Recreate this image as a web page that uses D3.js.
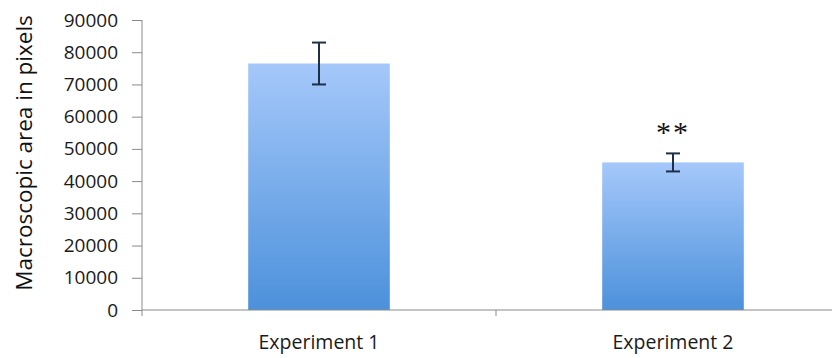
<!DOCTYPE html>
<html><head><meta charset="utf-8">
<script src="https://cdn.jsdelivr.net/npm/d3@7"></script>
<style>body{margin:0;background:#fff}svg{display:block}</style>
</head><body>
<svg id="c" width="832" height="358"></svg>
<script>
const categories = ["Experiment 1", "Experiment 2"];
const values = [76500, 45800];
const errors = [6500, 2800];
const annotations = ["", "**"];
const yTicks = [0,10000,20000,30000,40000,50000,60000,70000,80000,90000];
const yTitle = "Macroscopic area in pixels";

const svg = d3.select("#c");
const x = d3.scaleBand().domain(categories).range([142, 850]).paddingInner(0.6).paddingOuter(0.3);
const y = d3.scaleLinear().domain([0, 90000]).range([310, 20]);

const defs = svg.append("defs");
const g = defs.append("linearGradient").attr("id","bg").attr("x1",0).attr("y1",0).attr("x2",0).attr("y2",1);
g.append("stop").attr("offset","0%").attr("stop-color","#a5c8fa");
g.append("stop").attr("offset","100%").attr("stop-color","#4c91db");

svg.selectAll("rect.bar").data(categories).enter().append("rect")
  .attr("x", d => x(d)).attr("width", x.bandwidth())
  .attr("y", (d,i) => y(values[i])).attr("height", (d,i) => y(0) - y(values[i]))
  .attr("fill","url(#bg)");

// y axis
const ya = svg.append("g").attr("transform","translate(142,0)")
  .call(d3.axisLeft(y).tickValues(yTicks).tickSize(10).tickPadding(14).tickFormat(d3.format("d")));
ya.select(".domain").attr("stroke","#8a8a8a").attr("d","M0,20V310");
ya.selectAll(".tick line").attr("stroke","#8a8a8a");
ya.selectAll(".tick text").attr("font-family","'Open Sans', sans-serif").attr("font-size","19px").attr("fill","#1a1a1a");

// x axis
const xa = svg.append("g").attr("transform","translate(0,310)");
xa.append("line").attr("x1",142).attr("x2",850).attr("stroke","#8a8a8a");
const boundaries = [x.range()[0], (x(categories[0]) + x(categories[1]) + x.bandwidth())/2, x.range()[1]];
xa.selectAll("line.t").data(boundaries).enter().append("line")
  .attr("x1", d=>d).attr("x2", d=>d).attr("y1",0).attr("y2",6).attr("stroke","#8a8a8a");
xa.selectAll("text").data(categories).enter().append("text")
  .attr("x", d => x(d) + x.bandwidth()/2).attr("y", 39)
  .attr("text-anchor","middle").attr("font-family","'Open Sans', sans-serif").attr("font-size","19.5px").attr("fill","#1a1a1a")
  .text(d => d);

// error bars
const eb = svg.append("g").attr("stroke","#1e2f4a").attr("stroke-width",2);
categories.forEach((c,i) => {
  const cx = x(c) + x.bandwidth()/2;
  eb.append("line").attr("x1",cx).attr("x2",cx).attr("y1",y(values[i]+errors[i])).attr("y2",y(values[i]-errors[i]));
  eb.append("line").attr("x1",cx-7).attr("x2",cx+7).attr("y1",y(values[i]+errors[i])).attr("y2",y(values[i]+errors[i]));
  eb.append("line").attr("x1",cx-7).attr("x2",cx+7).attr("y1",y(values[i]-errors[i])).attr("y2",y(values[i]-errors[i]));
});

svg.selectAll("text.ann").data(categories).enter().append("text").attr("class","ann")
  .attr("x", d => x(d) + x.bandwidth()/2).attr("y", (d,i) => y(values[i]+errors[i]) - 11)
  .attr("text-anchor","middle").attr("font-family","'Liberation Serif', serif").attr("font-size","30px")
  .attr("letter-spacing","2px").attr("fill","#111")
  .text((d,i) => annotations[i]);

svg.append("text").attr("transform","translate(32,153) rotate(-90)")
  .attr("text-anchor","middle").attr("font-family","'Open Sans', sans-serif").attr("font-size","22.5px").attr("fill","#111")
  .text(yTitle);
</script>
</body></html>
